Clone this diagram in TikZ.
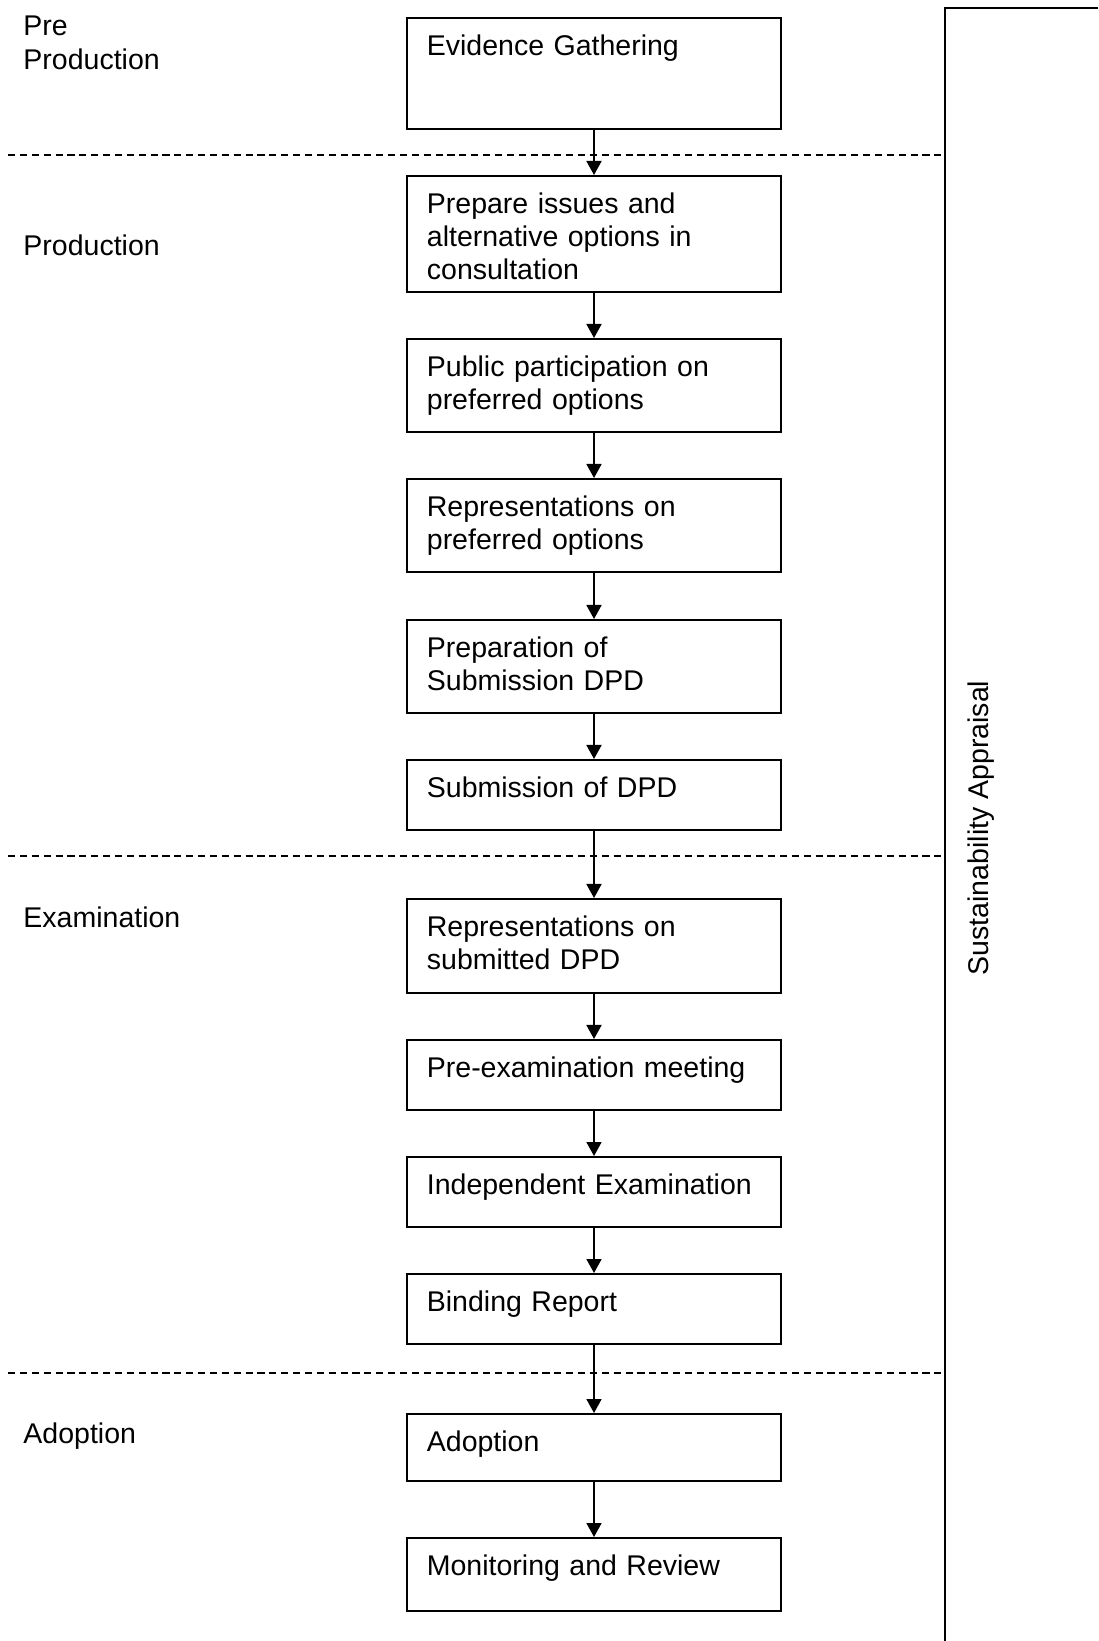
\documentclass[tikz,border=0pt]{standalone}
\usepackage{fontspec}
\setmainfont{Liberation Sans}
\usetikzlibrary{arrows.meta, positioning}

\tikzset{
  stage/.style={draw, line width=0.8pt, anchor=north, minimum width=157.5pt, text width=140.7pt, align=left,
    inner xsep=8.4pt, inner ysep=6.6pt, text height=9pt, font=\fontsize{12}{13.9}\selectfont},
  phase/.style={anchor=base west, text width=3cm, align=left, inner sep=0pt, font=\fontsize{12}{14.6}\selectfont},
  flow/.style={line width=0.8pt, -{Triangle[width=6.3pt,length=5.9pt]}},
  cut/.style={line width=0.7pt, dash pattern=on 3pt off 2pt}
}

\begin{document}
\begin{tikzpicture}[x=0.421pt, y=-0.421pt]
        \useasboundingbox (0,0) rectangle (1098,1641);
        % phase separators
        \draw [cut] (8,155) -- (945,155);
        \draw [cut] (8,856) -- (945,856);
        \draw [cut] (8,1373) -- (945,1373);
        % appraisal column
        \draw [line width=0.8pt] (1098,8) -- (945,8) -- (945,1641);
        \node[rotate=90, font=\fontsize{12}{14}\selectfont] (sa) at (981,828) {Sustainability Appraisal};
        % phase names
        \node[phase] (pre) at (23,35) {Pre\\Production};
        \node[phase] (prod) at (23,255) {Production};
        \node[phase] (exam) at (23,927) {Examination};
        \node[phase] (adopt) at (23,1443) {Adoption};
        % stages
        \node[stage, text depth=24.5pt] (ev) at (594,17) {Evidence Gathering};
        \node[stage, text depth=26.6pt] (iss) at (594,175) {Prepare issues and\\alternative options in\\consultation};
        \node[stage, text depth=17pt] (pub) at (594,338) {Public participation on\\preferred options};
        \node[stage, text depth=17pt] (rep) at (594,478) {Representations on\\preferred options};
        \node[stage, text depth=17pt] (prep) at (594,619) {Preparation of\\Submission DPD};
        \node[stage, text depth=7.3pt] (sub) at (594,759) {Submission of DPD};
        \node[stage, text depth=17.4pt] (rsub) at (594,898) {Representations on\\submitted DPD};
        \node[stage, text depth=7.3pt] (meet) at (594,1039) {Pre-examination meeting};
        \node[stage, text depth=7.3pt] (ind) at (594,1156) {Independent Examination};
        \node[stage, text depth=7.3pt] (bind) at (594,1273) {Binding Report};
        \node[stage, text depth=6pt] (ado) at (594,1413) {Adoption};
        \node[stage, text depth=8.5pt] (mon) at (594,1537) {Monitoring and Review};
        \foreach \a/\b in {ev/iss, iss/pub, pub/rep, rep/prep, prep/sub, sub/rsub, rsub/meet, meet/ind, ind/bind, bind/ado, ado/mon}
                \draw [flow] (\a) -- (\b);
\end{tikzpicture}
\end{document}
